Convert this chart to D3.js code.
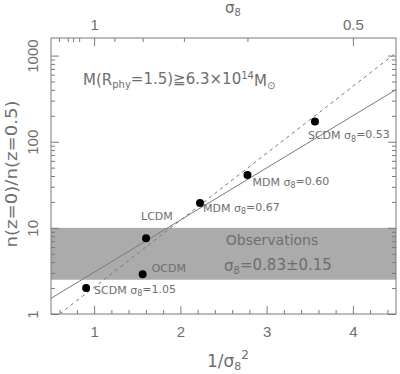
<!DOCTYPE html>
<html>
<head>
<meta charset="utf-8">
<script src="https://cdn.jsdelivr.net/npm/d3@7/dist/d3.min.js"></script>
<style>
  body { margin: 0; background: #fff; }
  text { font-family: "DejaVu Sans", sans-serif; fill: #6e6e6e; }
  .axis path { display: none; }
  .axis line { stroke: #7a7a7a; stroke-width: 1; }
  .axis text { font-family: "Liberation Sans Narrow", "Liberation Sans", sans-serif; }
</style>
</head>
<body>
<svg width="400" height="374"></svg>
<script>
// models (sigma8 -> x = 1/sigma8^2) and the ratio n(z=0)/n(z=0.5)
var models = ["SCDM", "OCDM", "LCDM", "MDM", "MDM", "SCDM"];
var sigma8 = [1.05, 0.80, 0.79, 0.67, 0.60, 0.53];
var ratio = [2.0, 2.9, 7.6, 19.4, 41, 172];
var labels = ["SCDM  σ8=1.05", "OCDM", "LCDM", "MDM  σ8=0.67", "MDM  σ8=0.60", "SCDM  σ8=0.53"];

// fitted lines, end points in data units [1/sigma8^2, ratio]
var solidFit = [[0.5, 1.52], [4.5, 402]];
var dashedFit = [[0.6, 1.0], [4.5, 1075]];

// observed band
var obsBand = [2.5, 10];

// axis ticks
var xMajor = [1, 2, 3, 4];
var xMinor = [0.6, 0.8, 1.2, 1.4, 1.6, 1.8, 2.2, 2.4, 2.6, 2.8, 3.2, 3.4, 3.6, 3.8, 4.2, 4.4];
var sigMajor = [1, 0.5];
var sigMinor = [1.3, 1.2, 1.15, 1.1, 0.9, 0.8, 0.7, 0.6];
var yMajor = [1, 10, 100, 1000];

var svg = d3.select("svg"),
    margin = {top: 38, right: 4, bottom: 60, left: 51},
    width = 400 - margin.left - margin.right,
    height = 374 - margin.top - margin.bottom;

var x = d3.scaleLinear().domain([0.5, 4.5]).range([0, width]);
var y = d3.scaleLog().domain([1, 1600]).range([height, 0]);

var g = svg.append("g").attr("transform", "translate(" + margin.left + "," + margin.top + ")");

g.append("clipPath").attr("id", "clip")
  .append("rect").attr("width", width).attr("height", height);

// observations band
g.append("rect")
  .attr("x", x(0.5)).attr("width", x(4.5) - x(0.5))
  .attr("y", y(obsBand[1])).attr("height", y(obsBand[0]) - y(obsBand[1]))
  .attr("fill", "#ababab");

var line = d3.line().x(function(d) { return x(d[0]); }).y(function(d) { return y(d[1]); });

g.append("path").datum(solidFit)
  .attr("clip-path", "url(#clip)")
  .attr("d", line).attr("fill", "none").attr("stroke", "#7a7a7a").attr("stroke-width", 1);

g.append("path").datum(dashedFit)
  .attr("clip-path", "url(#clip)")
  .attr("d", line).attr("fill", "none").attr("stroke", "#7a7a7a")
  .attr("stroke-width", 1).attr("stroke-dasharray", "3.5,3.5");

// points
var pts = sigma8.map(function(s, i) { return {x: 1 / (s * s), y: ratio[i], label: labels[i]}; });

g.selectAll(".pt").data(pts).enter().append("circle")
  .attr("class", "pt")
  .attr("cx", function(d) { return x(d.x); })
  .attr("cy", function(d) { return y(d.y); })
  .attr("r", 4).attr("fill", "#000");

// label offsets from each point (px)
var labelOffsets = [[8, 2], [9, -6], [-5, -22], [3, 5], [5, 7], [-7, 14]];

var lab = g.selectAll(".lab").data(pts).enter().append("text")
  .attr("class", "lab")
  .attr("x", function(d, i) { return x(d.x) + labelOffsets[i][0]; })
  .attr("y", function(d, i) { return y(d.y) + labelOffsets[i][1]; })
  .attr("dy", "0.35em")
  .style("font-size", "11px");

lab.each(function(d) {
  var t = d3.select(this);
  var parts = d.label.split("σ8");
  t.append("tspan").text(parts[0]);
  if (parts.length > 1) {
    t.append("tspan").text("σ");
    t.append("tspan").attr("dy", "0.3em").style("font-size", "8px").text("8");
    t.append("tspan").attr("dy", "-0.3em").text(parts[1]);
  }
});

// frame
g.append("rect").attr("width", width).attr("height", height)
  .attr("fill", "none").attr("stroke", "#7a7a7a").attr("stroke-width", 1);

// axes (ticks inward)
function drawX(axisFn, ty, major, minor, fmt, pad) {
  g.append("g").attr("class", "axis").attr("transform", "translate(0," + ty + ")")
    .call(axisFn(x).tickValues(minor).tickSize(-4).tickFormat(""));
  var a = g.append("g").attr("class", "axis").attr("transform", "translate(0," + ty + ")")
    .call(axisFn(x).tickValues(major).tickSize(-8).tickPadding(pad).tickFormat(fmt));
  a.selectAll("text").style("font-size", "15px").attr("fill", null);
  return a;
}
drawX(d3.axisBottom, height, xMajor, xMinor, d3.format("d"), 12);
drawX(d3.axisTop, 0,
  sigMajor.map(function(s) { return 1 / (s * s); }),
  sigMinor.map(function(s) { return 1 / (s * s); }),
  function(v) { return String(+(1 / Math.sqrt(v)).toFixed(2)); }, 8);

var yMinor = [];
yMajor.forEach(function(m) { [2, 3, 4, 5, 6, 7, 8, 9].forEach(function(k) { if (m * k < 1600) yMinor.push(m * k); }); });

[[d3.axisLeft, 0], [d3.axisRight, width]].forEach(function(s, i) {
  g.append("g").attr("class", "axis").attr("transform", "translate(" + s[1] + ",0)")
    .call(s[0](y).tickValues(yMinor).tickSize(-4).tickFormat(""));
  var a = g.append("g").attr("class", "axis").attr("transform", "translate(" + s[1] + ",0)")
    .call(s[0](y).tickValues(yMajor).tickSize(-8).tickFormat(i === 0 ? d3.format("d") : ""));
  a.selectAll("text")
    .attr("transform", "rotate(-90)")
    .attr("x", 0).attr("y", -13).attr("dy", null)
    .attr("text-anchor", "middle").attr("fill", null)
    .style("font-size", "15px");
});

// axis titles
var xt = svg.append("text").attr("x", 228).attr("y", 367).attr("text-anchor", "middle").style("font-size", "17px");
xt.append("tspan").text("1/σ");
xt.append("tspan").attr("dy", "0.3em").style("font-size", "11px").text("8");
xt.append("tspan").attr("dy", "-0.95em").style("font-size", "12px").text("2");

var tt = svg.append("text").attr("x", 233).attr("y", 13).attr("text-anchor", "middle").style("font-size", "15px");
tt.append("tspan").text("σ");
tt.append("tspan").attr("dy", "0.3em").style("font-size", "10px").text("8");

svg.append("text")
  .attr("transform", "translate(17,174) rotate(-90)")
  .attr("text-anchor", "middle").style("font-size", "15px")
  .attr("textLength", 147).attr("lengthAdjust", "spacingAndGlyphs")
  .text("n(z=0)/n(z=0.5)");

// annotation
var an = svg.append("text").attr("x", 83).attr("y", 85).style("font-size", "15px");
an.append("tspan").text("M(R");
an.append("tspan").attr("dy", "0.3em").style("font-size", "10px").text("phy");
an.append("tspan").attr("dy", "-0.3em").text("=1.5)≧6.3×10");
an.append("tspan").attr("dy", "-0.45em").style("font-size", "10px").text("14");
an.append("tspan").attr("dy", "0.45em").text("M");
an.append("tspan").attr("dy", "0.3em").style("font-size", "10px").text("⊙");

// observations label
svg.append("text").attr("x", 272).attr("y", 245).attr("text-anchor", "middle")
  .style("font-size", "14px").text("Observations");
var ob = svg.append("text").attr("x", 278).attr("y", 271).attr("text-anchor", "middle").style("font-size", "15px");
ob.append("tspan").text("σ");
ob.append("tspan").attr("dy", "0.3em").style("font-size", "10px").text("8");
ob.append("tspan").attr("dy", "-0.3em").text("=0.83±0.15");
</script>
</body>
</html>
